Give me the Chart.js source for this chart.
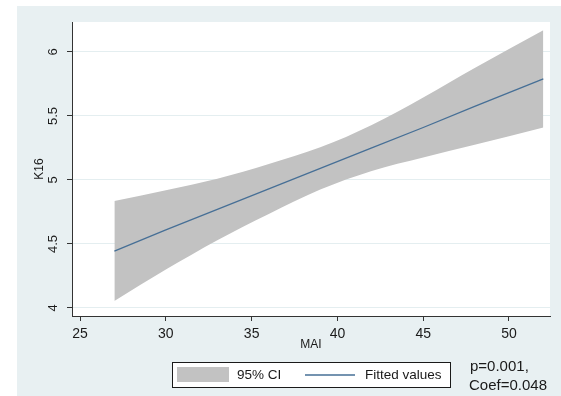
<!DOCTYPE html>
<html>
<head>
<meta charset="utf-8">
<script src="https://cdn.jsdelivr.net/npm/chart.js@4.4.1/dist/chart.umd.min.js"></script>
<style>
  html, body { margin: 0; padding: 0; background: #fff; }
  canvas { display: block; }
</style>
</head>
<body>
<canvas id="fitChart" width="561" height="396"></canvas>
<script>
// MAI values where the fit and its band are evaluated
const maiValues = [27, 30, 33, 36, 39, 42, 45, 48, 52];
// linear prediction of K16
const fittedK16 = [4.445, 4.61, 4.77, 4.93, 5.09, 5.25, 5.41, 5.575, 5.79];
// 95% confidence limits
const ciUpper = [4.835, 4.92, 5.01, 5.125, 5.255, 5.43, 5.645, 5.875, 6.17];
const ciLower = [4.055, 4.30, 4.53, 4.735, 4.925, 5.07, 5.175, 5.275, 5.41];
const xTicks = [25, 30, 35, 40, 45, 50];
const yTicks = [4, 4.5, 5, 5.5, 6];
const statsLines = ['p=0.001,', 'Coef=0.048'];

const FONT = "'Liberation Sans', Arial, sans-serif";
Chart.defaults.font.family = FONT;

const toPoints = ys => maiValues.map((x, i) => ({ x: x, y: ys[i] }));

// graph region (light) and plot region (white)
const backdrop = {
    id: 'backdrop',
    beforeDraw(chart) {
        const { ctx, width, height, chartArea: a } = chart;
        ctx.save();
        ctx.fillStyle = '#ffffff';
        ctx.fillRect(0, 0, width, height);
        ctx.fillStyle = '#e8f0f2';
        ctx.fillRect(17, 6, width - 17, height - 6);
        ctx.fillStyle = '#ffffff';
        ctx.fillRect(a.left, a.top, a.right - a.left, a.bottom - a.top);
        ctx.restore();
    }
};

// boxed legend under the axis plus the test result note
const legendBox = {
    id: 'legendBox',
    afterDraw(chart) {
        const ctx = chart.ctx;
        const fit = chart.data.datasets[0];
        const band = chart.data.datasets[1];
        ctx.save();
        ctx.fillStyle = '#ffffff';
        ctx.fillRect(172, 362, 278, 25);
        ctx.strokeStyle = '#1a1a1a';
        ctx.lineWidth = 1;
        ctx.strokeRect(172.5, 362.5, 278, 25);

        ctx.fillStyle = band.backgroundColor;
        ctx.fillRect(177, 367, 52, 15);
        ctx.strokeStyle = fit.borderColor;
        ctx.lineWidth = 1.3;
        ctx.beginPath();
        ctx.moveTo(305, 375);
        ctx.lineTo(355, 375);
        ctx.stroke();

        ctx.fillStyle = '#1a1a1a';
        ctx.textBaseline = 'middle';
        ctx.font = '13.5px ' + FONT;
        ctx.fillText(band.label, 237, 375);
        ctx.fillText(fit.label, 365, 375);
        ctx.font = '15px ' + FONT;
        ctx.fillText(statsLines[0], 470, 367);
        ctx.fillText(statsLines[1], 469, 386);
        ctx.restore();
    }
};

new Chart(document.getElementById('fitChart'), {
    type: 'line',
    data: {
        datasets: [{
            label: 'Fitted values',
            data: toPoints(fittedK16),
            borderColor: '#466f96',
            borderWidth: 1.3,
            pointRadius: 0,
            fill: false
        }, {
            label: '95% CI',
            data: toPoints(ciUpper),
            backgroundColor: '#c2c2c2',
            borderColor: 'rgba(0,0,0,0)',
            borderWidth: 0,
            pointRadius: 0,
            cubicInterpolationMode: 'monotone',
            fill: '+1'
        }, {
            label: 'lower',
            data: toPoints(ciLower),
            borderColor: 'rgba(0,0,0,0)',
            borderWidth: 0,
            pointRadius: 0,
            cubicInterpolationMode: 'monotone',
            fill: false
        }]
    },
    options: {
        responsive: false,
        animation: false,
        layout: { padding: { left: 17, top: 22, right: 11, bottom: 0 } },
        plugins: {
            legend: { display: false },
            tooltip: { enabled: false }
        },
        scales: {
            x: {
                type: 'linear',
                min: 24.53,
                max: 52.39,
                afterBuildTicks: s => { s.ticks = xTicks.map(v => ({ value: v })); },
                afterFit: s => { s.height = 80; },
                grid: { color: 'rgba(0,0,0,0)', tickColor: '#333', tickLength: 5 },
                border: { color: '#333', width: 1 },
                ticks: { color: '#1a1a1a', font: { size: 14 }, padding: 5, maxRotation: 0, autoSkip: false },
                title: { display: true, text: 'MAI', color: '#1a1a1a', font: { size: 12 }, padding: { top: 0, bottom: 44 } }
            },
            y: {
                type: 'linear',
                min: 3.9375,
                max: 6.234,
                afterBuildTicks: s => { s.ticks = yTicks.map(v => ({ value: v })); },
                afterFit: s => { s.width = 55; },
                grid: { color: '#e4eef0', tickColor: '#333', tickLength: 5 },
                border: { color: '#333', width: 1 },
                ticks: {
                    color: '#1a1a1a', font: { size: 13 }, padding: 5,
                    minRotation: 90, maxRotation: 90, crossAlign: 'center',
                    callback: v => String(v)
                },
                title: { display: true, text: 'K16', color: '#1a1a1a', font: { size: 12 }, padding: { top: 15, bottom: 0 } }
            }
        }
    },
    plugins: [backdrop, legendBox]
});
</script>
</body>
</html>
